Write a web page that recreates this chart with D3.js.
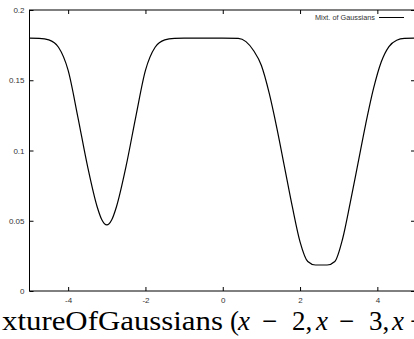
<!DOCTYPE html>
<html>
<head>
<meta charset="utf-8">
<script src="https://cdn.jsdelivr.net/npm/d3@7"></script>
<style>
  html, body { margin: 0; padding: 0; background: #fff; }
  svg { display: block; }
</style>
</head>
<body>
<div id="chart"></div>
<script>
// curve samples
const xValues = [-5, -4.75, -4.5, -4.25, -4, -3.75, -3.5, -3.25, -3.125, -3, -2.875, -2.75, -2.5, -2.25, -2, -1.75, -1.5, -1.25, -1, -0.5, 0, 0.4, 0.6, 0.8, 1.0, 1.2, 1.4, 1.6, 1.8, 2.0, 2.2, 2.4, 2.54, 2.7, 2.9, 3.1, 3.3, 3.5, 3.7, 3.9, 4.1, 4.3, 4.5, 4.7, 5];
const yValues = [0.18, 0.1798, 0.1787, 0.1735, 0.157, 0.124, 0.089, 0.060, 0.0505, 0.047, 0.0505, 0.060, 0.089, 0.124, 0.157, 0.1735, 0.1787, 0.1798, 0.18, 0.18, 0.18, 0.1798, 0.1775, 0.171, 0.1605, 0.141, 0.116, 0.088, 0.060, 0.035, 0.021, 0.0185, 0.0185, 0.0185, 0.021, 0.037, 0.063, 0.091, 0.119, 0.144, 0.163, 0.174, 0.1785, 0.1798, 0.18];

const xTicks = [-4, -2, 0, 2, 4];
const yTicks = [0, 0.05, 0.1, 0.15, 0.2];
const seriesName = "Mixt. of Gaussians";

// caption pieces: [text, italic, x, width]
const caption = [
  ["xtureOfGaussians", false, 2, 221],
  ["(", false, 230],
  ["x", true, 238],
  ["\u2212", false, 262],
  ["2,", false, 292],
  ["x", true, 316],
  ["\u2212", false, 339],
  ["3,", false, 369],
  ["x", true, 392],
  ["\u2212", false, 410]
];

var w = 414;
var h = 339;

var svg = d3.select("#chart")
  .append("svg")
  .attr("width", w)
  .attr("height", h);

var x = d3.scaleLinear().domain([-5, 5]).range([29.5, 416]);
var y = d3.scaleLinear().domain([0, 0.2]).range([291, 10]);

var tickFont = "'Liberation Sans', Arial, sans-serif";

// frame
svg.append("rect")
  .attr("x", x(-5))
  .attr("y", y(0.2))
  .attr("width", x(5) - x(-5))
  .attr("height", y(0) - y(0.2))
  .attr("fill", "none")
  .attr("stroke", "#000")
  .attr("stroke-width", 1);

// left axis (labels)
var axLeft = svg.append("g")
  .attr("transform", "translate(" + x(-5) + ",0)")
  .call(d3.axisLeft(y).tickValues(yTicks).tickSize(-4).tickSizeOuter(0).tickPadding(5)
    .tickFormat(d => String(d)));

// bottom axis (labels)
var axBottom = svg.append("g")
  .attr("transform", "translate(0," + y(0) + ")")
  .call(d3.axisBottom(x).tickValues(xTicks).tickSize(-4).tickSizeOuter(0).tickPadding(6)
    .tickFormat(d => String(d)));

// mirrored ticks
var axTop = svg.append("g")
  .attr("transform", "translate(0," + y(0.2) + ")")
  .call(d3.axisTop(x).tickValues(xTicks).tickSize(-4).tickSizeOuter(0).tickFormat(""));

var axRight = svg.append("g")
  .attr("transform", "translate(" + (x(5) - 1) + ",0)")
  .call(d3.axisRight(y).tickValues(yTicks).tickSize(-4).tickSizeOuter(0).tickFormat(""));

[axLeft, axBottom, axTop, axRight].forEach(g => {
  g.select(".domain").remove();
  g.selectAll("line").attr("stroke", "#000");
  g.selectAll("text")
    .attr("fill", "#333")
    .style("font-family", tickFont)
    .style("font-size", "8px");
});

// curve
var points = xValues.map((v, i) => [v, yValues[i]]);
var line = d3.line()
  .x(d => x(d[0]))
  .y(d => y(d[1]))
  .curve(d3.curveMonotoneX);

svg.append("path")
  .datum(points)
  .attr("d", line)
  .attr("fill", "none")
  .attr("stroke", "#000")
  .attr("stroke-width", 1.2);

// legend
var legend = svg.append("g");
legend.append("text")
  .attr("x", 375)
  .attr("y", 17.5)
  .attr("dy", "0.35em")
  .attr("text-anchor", "end")
  .attr("fill", "#333")
  .style("font-family", tickFont)
  .style("font-size", "7.3px")
  .text(seriesName);
legend.append("line")
  .attr("x1", 379)
  .attr("x2", 404)
  .attr("y1", 17.5)
  .attr("y2", 17.5)
  .attr("stroke", "#000")
  .attr("stroke-width", 1);

// caption below the plot
var cap = svg.append("text")
  .attr("y", 330)
  .style("font-family", "'Liberation Serif', 'Times New Roman', serif")
  .style("font-size", "27px")
  .attr("fill", "#000");

caption.forEach(c => {
  var t = cap.append("tspan")
    .attr("x", c[2])
    .style("font-style", c[1] ? "italic" : "normal")
    .text(c[0]);
  if (c[3]) t.attr("textLength", c[3]).attr("lengthAdjust", "spacingAndGlyphs");
});
</script>
</body>
</html>
